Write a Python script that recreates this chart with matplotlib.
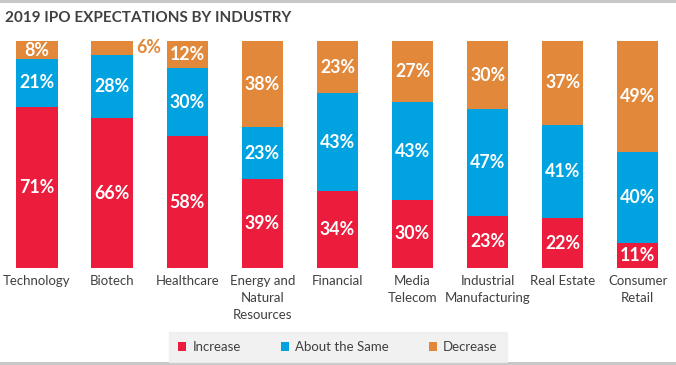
import matplotlib
matplotlib.use("Agg")
import matplotlib.pyplot as plt
from matplotlib.patches import Rectangle

categories = ["Technology", "Biotech", "Healthcare", "Energy and\nNatural\nResources",
              "Financial", "Media\nTelecom", "Industrial\nManufacturing", "Real Estate",
              "Consumer\nRetail"]
increase = [71, 66, 58, 39, 34, 30, 23, 22, 11]
same = [21, 28, 30, 23, 43, 43, 47, 41, 40]
decrease = [8, 6, 12, 38, 23, 27, 30, 37, 49]
series_names = ["Increase", "About the Same", "Decrease"]
title = "2019 IPO EXPECTATIONS BY INDUSTRY"

RED = "#EC1C3D"
BLUE = "#00A3E0"
ORANGE = "#E1883A"
TXT = "#404040"

plt.rcParams['font.family'] = ['Lato', 'DejaVu Sans']

W, H = 676, 365
fig = plt.figure(figsize=(W / 100, H / 100), dpi=100)
ax = fig.add_axes([0, (H - 268) / H, 1, (268 - 41) / H])

x = list(range(len(categories)))
bw = 0.55
b1 = ax.bar(x, increase, bw, color=RED, label=series_names[0])
b2 = ax.bar(x, same, bw, bottom=increase, color=BLUE, label=series_names[1])
bot3 = [a + b for a, b in zip(increase, same)]
b3 = ax.bar(x, decrease, bw, bottom=bot3, color=ORANGE, label=series_names[2])

fs = 12.8
for i in x:
    ax.text(i, increase[i] / 2, f"{increase[i]}%", ha="center", va="center",
            color="white", fontsize=fs, fontweight="bold")
    ax.text(i, increase[i] + same[i] / 2, f"{same[i]}%", ha="center", va="center",
            color="white", fontsize=fs, fontweight="bold")
    if decrease[i] >= 8:
        ax.text(i, bot3[i] + decrease[i] / 2, f"{decrease[i]}%", ha="center", va="center",
                color="white", fontsize=fs, fontweight="bold")
    else:
        ax.text(i + bw / 2 + 0.04, bot3[i] + decrease[i] - 3.0, f"{decrease[i]}%",
                ha="left", va="center", color=ORANGE, fontsize=fs, fontweight="bold")

ax.set_ylim(0, 100)
ax.set_xlim(-37 / 75.1, (W - 37) / 75.1)
ax.set_yticks([])
ax.set_xticks(x)
ax.set_xticklabels(categories, fontsize=9.5, color=TXT, linespacing=1.5)
ax.tick_params(axis="x", length=0, pad=5)
for s in ax.spines.values():
    s.set_visible(False)

fig.text(5 / W, 1 - 18 / H, title, ha="left", va="center", fontsize=11,
         fontweight="bold", color=TXT)

# top and bottom rules
fig.add_artist(Rectangle((0, 1 - 3 / H), 1, 3 / H, transform=fig.transFigure,
                         color="#C8C8C8", lw=0))
fig.add_artist(Rectangle((0, 0), 1, 3 / H, transform=fig.transFigure,
                         color="#C8C8C8", lw=0))

leg = fig.legend(handles=[b1, b2, b3], labels=series_names, loc="center",
                 bbox_to_anchor=(338 / W, 1 - 347 / H), ncol=3, frameon=True,
                 fontsize=9.5, handlelength=0.6, handleheight=0.6, columnspacing=3.0,
                 handletextpad=0.5, borderpad=0.7, fancybox=False)
leg.get_frame().set_facecolor("#EEEEEE")
leg.get_frame().set_edgecolor("#EEEEEE")
for t in leg.get_texts():
    t.set_color(TXT)

fig.savefig("out.png", dpi=100)
